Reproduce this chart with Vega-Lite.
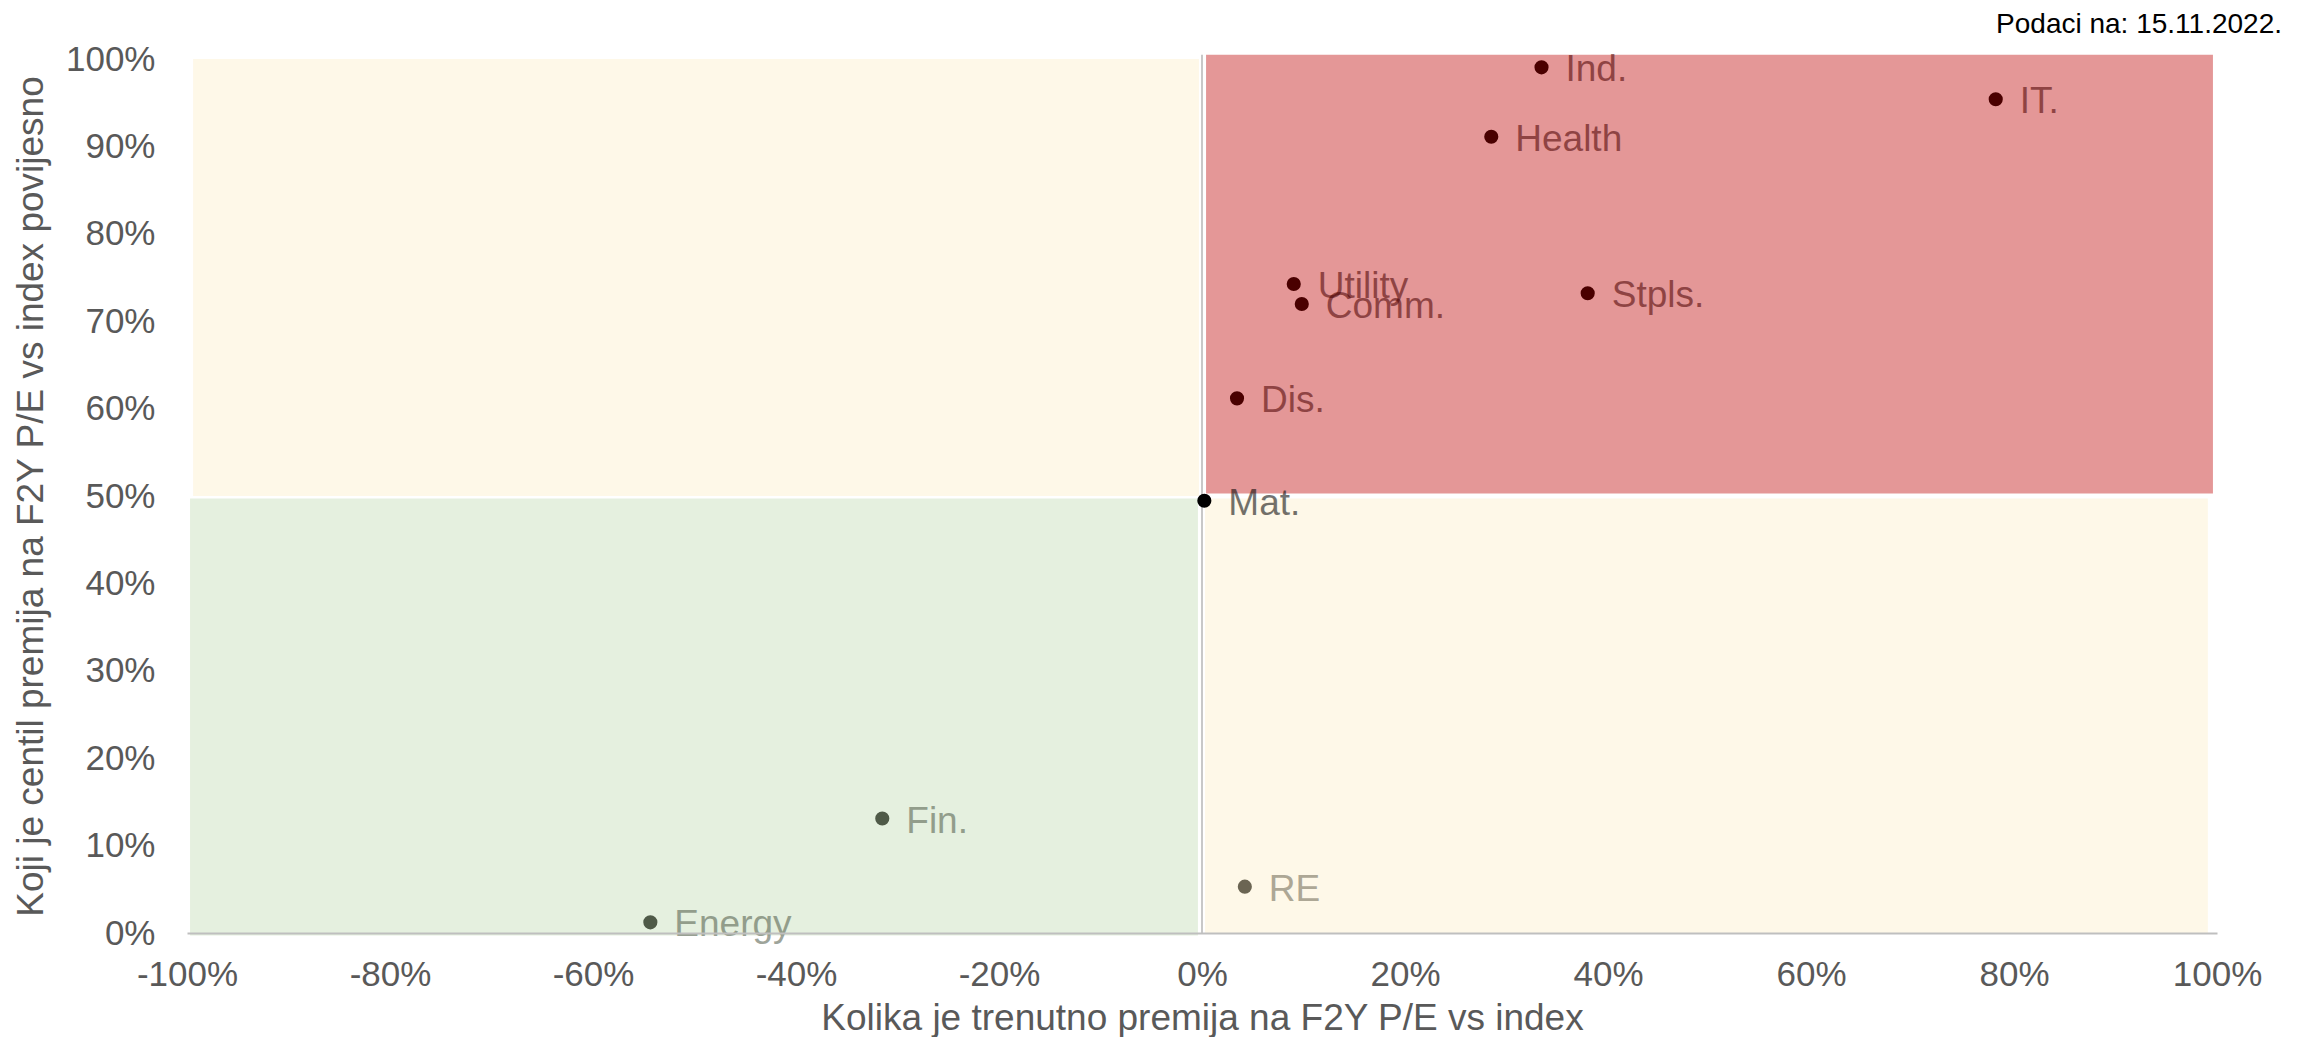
{
  "$schema": "https://vega.github.io/schema/vega-lite/v6.json",
  "width": 2030,
  "height": 874,
  "autosize": "none",
  "padding": {"left": 187, "top": 59, "right": 91, "bottom": 104},
  "background": "white",
  "config": {"view": {"stroke": null}, "font": "Liberation Sans"},
  "title": {"text": "Podaci na: 15.11.2022.", "anchor": "end", "frame": "group", "orient": "top", "fontSize": 28, "fontWeight": "normal", "color": "#000000", "dx": 65, "offset": 3, "font": "Liberation Sans"},
  "encoding": {
    "x": {"field": "x", "type": "quantitative", "scale": {"domain": [-1, 1], "nice": false, "zero": false},
      "axis": {"title": "Kolika je trenutno premija na F2Y P/E vs index", "format": ".0%", "labelExpr": "replace(datum.label, '−', '-')", "values": [-1, -0.8, -0.6, -0.4, -0.2, 0, 0.2, 0.4, 0.6, 0.8, 1],
        "domain": true, "domainColor": "#bfbfbf", "domainWidth": 2, "ticks": false, "grid": false, "labelFontSize": 35, "labelColor": "#595959",
        "labelPadding": 24, "labelFlush": false, "labelOverlap": false, "titleFontSize": 37, "titleColor": "#595959", "titleFontWeight": "normal", "titlePadding": 8, "zindex": 1}},
    "y": {"field": "y", "type": "quantitative", "scale": {"domain": [0, 1], "nice": false},
      "axis": {"title": "Koji je centil premija na F2Y P/E vs index povijesno", "format": ".0%", "values": [0, 0.1, 0.2, 0.3, 0.4, 0.5, 0.6, 0.7, 0.8, 0.9, 1],
        "domain": false, "ticks": false, "grid": false, "labelFontSize": 35, "labelColor": "#595959", "labelPadding": 32, "labelFlush": false, "labelOverlap": false,
        "titleFontSize": 37, "titleColor": "#595959", "titleFontWeight": "normal", "titlePadding": 15}}
  },
  "layer": [
    {
      "data": {"values": [
        {"kvadrant": "TL", "x": -0.994, "x2": -0.003, "y": 0.5, "y2": 1.0},
        {"kvadrant": "TR", "x": 0.004, "x2": 0.996, "y": 0.503, "y2": 1.005},
        {"kvadrant": "BL", "x": -0.997, "x2": -0.004, "y": -0.003, "y2": 0.497},
        {"kvadrant": "BR", "x": 0.003, "x2": 0.991, "y": 0.0, "y2": 0.497}
      ]},
      "mark": {"type": "rect", "clip": false},
      "encoding": {
        "x2": {"field": "x2"},
        "y2": {"field": "y2"},
        "fill": {"field": "kvadrant", "type": "nominal", "legend": null,
          "scale": {"domain": ["TL", "TR", "BL", "BR"], "range": ["#fef8e8", "#e49797", "#e5f0df", "#fef8e8"]}}
      }
    },
    {
      "data": {"values": [{"x": 0, "y": 0, "y2": 1.005}]},
      "mark": {"type": "rule", "color": "#c8c8c8", "strokeWidth": 2, "clip": false},
      "encoding": {"y2": {"field": "y2"}}
    },
    {
      "data": {"name": "sektori", "values": [
        {"sektor": "IT.", "x": 0.782, "y": 0.954, "kvadrant": "TR"},
        {"sektor": "Ind.", "x": 0.3345, "y": 0.9905, "kvadrant": "TR"},
        {"sektor": "Health", "x": 0.285, "y": 0.911, "kvadrant": "TR"},
        {"sektor": "Utility", "x": 0.0904, "y": 0.7426, "kvadrant": "TR"},
        {"sektor": "Comm.", "x": 0.0983, "y": 0.7197, "kvadrant": "TR"},
        {"sektor": "Stpls.", "x": 0.38, "y": 0.732, "kvadrant": "TR"},
        {"sektor": "Dis.", "x": 0.0345, "y": 0.6117, "kvadrant": "TR"},
        {"sektor": "Mat.", "x": 0.0023, "y": 0.4946, "kvadrant": "C"},
        {"sektor": "Fin.", "x": -0.315, "y": 0.131, "kvadrant": "BL"},
        {"sektor": "Energy", "x": -0.5435, "y": 0.0122, "kvadrant": "BL"},
        {"sektor": "RE", "x": 0.0422, "y": 0.053, "kvadrant": "BR"}
      ]},
      "layer": [
        {
          "mark": {"type": "circle", "size": 200, "opacity": 1, "clip": false},
          "encoding": {"color": {"field": "kvadrant", "type": "nominal", "legend": null,
            "scale": {"domain": ["TR", "C", "BL", "BR"], "range": ["#4a0000", "#000000", "#4f5a48", "#6b6553"]}}}
        },
        {
          "mark": {"type": "text", "align": "left", "baseline": "middle", "dx": 24, "dy": 3, "fontSize": 37, "opacity": 0.55, "font": "Liberation Sans", "clip": false},
          "encoding": {"text": {"field": "sektor"}, "color": {"field": "kvadrant", "type": "nominal", "legend": null,
            "scale": {"domain": ["TR", "C", "BL", "BR"], "range": ["#4a0000", "#2a2a20", "#4f5a48", "#6b6553"]}}}
        }
      ]
    }
  ]
}
